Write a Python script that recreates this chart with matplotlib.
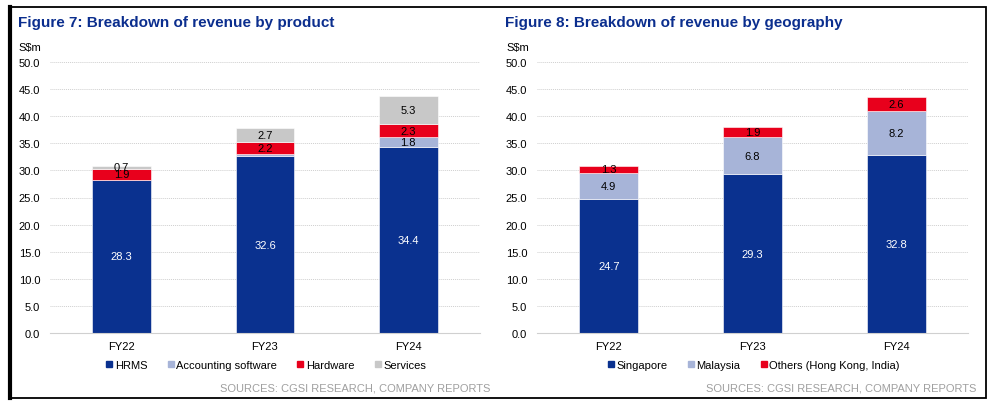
import matplotlib.pyplot as plt
from matplotlib.patches import Rectangle
from matplotlib.lines import Line2D
import numpy as np

plt.rcParams['font.family'] = ['Liberation Sans', 'DejaVu Sans']

years = ['FY22', 'FY23', 'FY24']

# Figure 7 - by product
hrms = [28.3, 32.6, 34.4]
accounting = [0.0, 0.4, 1.8]
hardware = [1.9, 2.2, 2.3]
services = [0.7, 2.7, 5.3]

# Figure 8 - by geography
singapore = [24.7, 29.3, 32.8]
malaysia = [4.9, 6.8, 8.2]
others = [1.3, 1.9, 2.6]

dark_blue = '#0A318F'
light_blue = '#A7B4D8'
red = '#E8001C'
grey = '#C8C8C8'
title_col = '#0B2E8E'

fig = plt.figure(figsize=(9.88, 4.06), dpi=100)


def stacked(ax, series, names, colors, txtcols):
    x = np.arange(len(years))
    bottom = np.zeros(len(years))
    for vals, name, c, tc in zip(series, names, colors, txtcols):
        vals = np.array(vals)
        ax.bar(x, vals, 0.41, bottom=bottom, color=c, label=name,
               edgecolor='white', linewidth=0.4, zorder=3)
        for xi, b, v in zip(x, bottom, vals):
            if v >= 0.6:
                ax.text(xi, b + v / 2, f'{v:.1f}', ha='center', va='center',
                        fontsize=8, color=tc, zorder=4)
        bottom += vals
    ax.set_xlim(-0.5, 2.5)
    ax.set_ylim(0, 50)
    ax.set_yticks(np.arange(0, 50.1, 5))
    ax.set_yticklabels([f'{v:.1f}' for v in np.arange(0, 50.1, 5)])
    ax.set_xticks(x)
    ax.set_xticklabels(years)
    ax.tick_params(length=0, labelsize=8, colors='black')
    ax.tick_params(axis='y', pad=7)
    ax.tick_params(axis='x', pad=6)
    ax.yaxis.grid(True, linestyle=(0, (1, 1)), color='#CFCFCF', linewidth=0.7, zorder=0)
    for s in ['top', 'right', 'left']:
        ax.spines[s].set_visible(False)
    ax.spines['bottom'].set_color('#D0D0D0')
    ax.spines['bottom'].set_zorder(5)
    ax.set_axisbelow(True)
    handles = [Line2D([], [], marker='s', linestyle='', color=c, markersize=4.5) for c in colors]
    ax.legend(handles, names, loc='center', bbox_to_anchor=(0.5, -0.118), ncol=len(names),
              frameon=False, fontsize=8, handletextpad=0.0, columnspacing=1.6,
              handlelength=1.0)


ax1 = fig.add_axes([50 / 988, 1 - 334 / 406, 430 / 988, 271 / 406])
stacked(ax1, [hrms, accounting, hardware, services],
        ['HRMS', 'Accounting software', 'Hardware', 'Services'],
        [dark_blue, light_blue, red, grey],
        ['white', 'black', 'black', 'black'])

ax2 = fig.add_axes([537 / 988, 1 - 334 / 406, 431 / 988, 271 / 406])
stacked(ax2, [singapore, malaysia, others],
        ['Singapore', 'Malaysia', 'Others (Hong Kong, India)'],
        [dark_blue, light_blue, red],
        ['white', 'black', 'black'])

# titles and labels
fig.text(18 / 988, 1 - 23 / 406, 'Figure 7: Breakdown of revenue by product', fontsize=11,
         fontweight='bold', color=title_col, va='center')
fig.text(505 / 988, 1 - 23 / 406, 'Figure 8: Breakdown of revenue by geography', fontsize=11,
         fontweight='bold', color=title_col, va='center')
fig.text(18 / 988, 1 - 48 / 406, 'S$m', fontsize=8, va='center')
fig.text(506 / 988, 1 - 48 / 406, 'S$m', fontsize=8, va='center')
fig.text(490 / 988, 1 - 389 / 406, 'SOURCES: CGSI RESEARCH, COMPANY REPORTS', fontsize=8,
         color='#A0A0A0', ha='right', va='center')
fig.text(976 / 988, 1 - 389 / 406, 'SOURCES: CGSI RESEARCH, COMPANY REPORTS', fontsize=8,
         color='#A0A0A0', ha='right', va='center')

# outer frame
fig.patches.append(Rectangle((9 / 988, 1 - 399 / 406), 977 / 988, 391 / 406,
                             transform=fig.transFigure, fill=False, edgecolor='black',
                             linewidth=1.3))
fig.lines.append(Line2D([10 / 988, 10 / 988], [1 - 399 / 406, 1 - 8 / 406],
                        transform=fig.transFigure, color='black', linewidth=3))

fig.savefig('out.png', dpi=100)
